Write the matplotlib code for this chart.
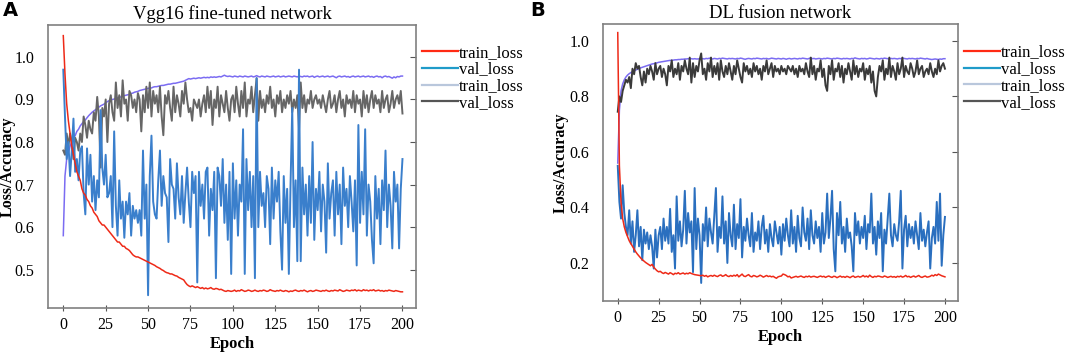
import matplotlib
matplotlib.use("Agg")
import matplotlib.pyplot as plt
from matplotlib.lines import Line2D

plt.rcParams['font.family'] = ['Liberation Serif', 'DejaVu Serif']

epochs = list(range(201))

# Panel A: Vgg16 fine-tuned network
a_train_loss = [
    1.05, 0.96, 0.89, 0.85, 0.82, 0.79, 0.77, 0.75, 0.73, 0.72,
    0.71, 0.69, 0.68, 0.675, 0.665, 0.66, 0.65, 0.645, 0.635, 0.63,
    0.625, 0.615, 0.61, 0.605, 0.605, 0.60, 0.595, 0.59, 0.585, 0.58,
    0.575, 0.57, 0.565, 0.565, 0.56, 0.555, 0.555, 0.55, 0.548, 0.545,
    0.54, 0.535, 0.532, 0.53, 0.53, 0.528, 0.526, 0.524, 0.522, 0.52,
    0.518, 0.516, 0.514, 0.512, 0.51, 0.507, 0.505, 0.503, 0.50, 0.498,
    0.495, 0.493, 0.492, 0.49, 0.49, 0.488, 0.486, 0.485, 0.482, 0.48,
    0.478, 0.476, 0.47, 0.465, 0.462, 0.46, 0.462, 0.46, 0.458, 0.46,
    0.458, 0.456, 0.458, 0.455, 0.457, 0.455, 0.456, 0.458, 0.455, 0.454,
    0.456, 0.455, 0.453, 0.454, 0.452, 0.45, 0.449, 0.451, 0.45, 0.449,
    0.45, 0.452, 0.449, 0.451, 0.45, 0.453, 0.451, 0.449, 0.45, 0.452,
    0.451, 0.449, 0.45, 0.452, 0.45, 0.449, 0.451, 0.45, 0.452, 0.451,
    0.449, 0.45, 0.453, 0.451, 0.45, 0.449, 0.451, 0.45, 0.452, 0.45,
    0.449, 0.451, 0.45, 0.448, 0.45, 0.449, 0.451, 0.452, 0.45, 0.449,
    0.451, 0.45, 0.452, 0.45, 0.448, 0.45, 0.451, 0.449, 0.45, 0.452,
    0.451, 0.45, 0.449, 0.451, 0.45, 0.452, 0.45, 0.449, 0.451, 0.45,
    0.452, 0.451, 0.45, 0.453, 0.451, 0.449, 0.45, 0.452, 0.451, 0.45,
    0.452, 0.451, 0.453, 0.45, 0.452, 0.451, 0.45, 0.453, 0.451, 0.452,
    0.45, 0.452, 0.451, 0.453, 0.45, 0.451, 0.452, 0.45, 0.451, 0.449,
    0.451, 0.45, 0.452, 0.451, 0.45, 0.449, 0.451, 0.45, 0.449, 0.448, 0.448,
]
a_val_loss = [
    0.97, 0.86, 0.76, 0.80, 0.72, 0.78, 0.855, 0.73, 0.76, 0.71,
    0.78, 0.79, 0.68, 0.63, 0.785, 0.70, 0.77, 0.66, 0.72, 0.64,
    0.71, 0.67, 0.875, 0.74, 0.70, 0.77, 0.67, 0.68, 0.72, 0.60,
    0.825, 0.65, 0.58, 0.71, 0.62, 0.66, 0.575, 0.66, 0.63, 0.68,
    0.58, 0.65, 0.62, 0.64, 0.61, 0.64, 0.58, 0.78, 0.62, 0.70,
    0.44, 0.72, 0.815, 0.66, 0.63, 0.62, 0.71, 0.78, 0.65, 0.72,
    0.68, 0.67, 0.565, 0.76, 0.70, 0.69, 0.62, 0.75, 0.67, 0.63,
    0.72, 0.61, 0.68, 0.74, 0.66, 0.60, 0.73, 0.68, 0.72, 0.47,
    0.73, 0.65, 0.70, 0.62, 0.73, 0.74, 0.58, 0.69, 0.64, 0.73,
    0.48, 0.74, 0.72, 0.65, 0.76, 0.61, 0.70, 0.57, 0.73, 0.49,
    0.75, 0.62, 0.71, 0.58, 0.70, 0.66, 0.83, 0.49, 0.76, 0.64,
    0.73, 0.60, 0.72, 0.48, 0.95, 0.60, 0.73, 0.65, 0.68, 0.60,
    0.72, 0.69, 0.56, 0.74, 0.62, 0.71, 0.66, 0.73, 0.59, 0.50,
    0.72, 0.61, 0.69, 0.49, 0.70, 0.88, 0.60, 0.71, 0.52, 0.97,
    0.52, 0.74, 0.63, 0.70, 0.58, 0.72, 0.61, 0.80, 0.57, 0.69,
    0.64, 0.73, 0.59, 0.70, 0.66, 0.54, 0.75, 0.62, 0.68, 0.71,
    0.58, 0.73, 0.63, 0.70, 0.56, 0.74, 0.65, 0.69, 0.60, 0.72,
    0.66, 0.59, 0.71, 0.51, 0.84, 0.61, 0.73, 0.63, 0.83, 0.58,
    0.70, 0.66, 0.57, 0.515, 0.72, 0.62, 0.69, 0.56, 0.71, 0.64,
    0.78, 0.60, 0.70, 0.65, 0.55, 0.73, 0.66, 0.70, 0.55, 0.69, 0.76,
]
a_train_acc = [
    0.58, 0.72, 0.76, 0.775, 0.79, 0.80, 0.81, 0.815, 0.825, 0.83,
    0.838, 0.843, 0.848, 0.852, 0.857, 0.862, 0.866, 0.87, 0.873, 0.876,
    0.879, 0.882, 0.885, 0.887, 0.889, 0.892, 0.895, 0.897, 0.899, 0.90,
    0.901, 0.903, 0.904, 0.905, 0.906, 0.908, 0.909, 0.91, 0.911, 0.912,
    0.914, 0.915, 0.917, 0.918, 0.919, 0.921, 0.922, 0.923, 0.924, 0.925,
    0.926, 0.927, 0.927, 0.929, 0.93, 0.93, 0.931, 0.932, 0.933, 0.933,
    0.934, 0.935, 0.936, 0.936, 0.937, 0.938, 0.938, 0.939, 0.94, 0.941,
    0.942, 0.943, 0.945, 0.947, 0.949, 0.948, 0.949, 0.95, 0.949, 0.95,
    0.951, 0.95, 0.951, 0.952, 0.951, 0.952, 0.951, 0.953, 0.952, 0.953,
    0.952, 0.953, 0.954, 0.953, 0.955, 0.957, 0.955, 0.954, 0.955, 0.954,
    0.953, 0.955, 0.954, 0.953, 0.955, 0.954, 0.953, 0.955, 0.954, 0.953,
    0.954, 0.955, 0.953, 0.954, 0.956, 0.954, 0.953, 0.955, 0.954, 0.953,
    0.955, 0.954, 0.953, 0.954, 0.955, 0.953, 0.954, 0.955, 0.953, 0.954,
    0.955, 0.953, 0.954, 0.955, 0.954, 0.953, 0.955, 0.954, 0.953, 0.955,
    0.954, 0.953, 0.955, 0.954, 0.955, 0.953, 0.954, 0.955, 0.952, 0.954,
    0.955, 0.953, 0.954, 0.955, 0.953, 0.954, 0.955, 0.953, 0.954, 0.955,
    0.953, 0.951, 0.954, 0.955, 0.953, 0.954, 0.955, 0.953, 0.954, 0.952,
    0.954, 0.955, 0.953, 0.954, 0.955, 0.953, 0.954, 0.955, 0.953, 0.954,
    0.955, 0.953, 0.954, 0.952, 0.954, 0.955, 0.953, 0.954, 0.951, 0.954,
    0.955, 0.953, 0.954, 0.952, 0.95, 0.953, 0.951, 0.954, 0.953, 0.955, 0.955,
]
a_val_acc = [
    0.78, 0.77, 0.82, 0.79, 0.82, 0.80, 0.76, 0.81, 0.80, 0.78,
    0.82, 0.80, 0.86, 0.84, 0.81, 0.85, 0.83, 0.82, 0.87, 0.85,
    0.906, 0.86, 0.74, 0.88, 0.86, 0.90, 0.80, 0.89, 0.91, 0.87,
    0.85, 0.94, 0.88, 0.91, 0.86, 0.945, 0.89, 0.90, 0.85, 0.92,
    0.91, 0.88, 0.90, 0.87, 0.915, 0.90, 0.825, 0.91, 0.87, 0.93,
    0.88, 0.94, 0.86, 0.92, 0.89, 0.91, 0.87, 0.93, 0.86, 0.816,
    0.91, 0.89, 0.92, 0.88, 0.85, 0.93, 0.87, 0.91, 0.89, 0.86,
    0.92, 0.89, 0.94, 0.90, 0.87, 0.88, 0.85, 0.90, 0.89, 0.88,
    0.90, 0.86, 0.89, 0.91, 0.87, 0.93, 0.88, 0.92, 0.84, 0.90,
    0.88, 0.93, 0.86, 0.91, 0.89, 0.87, 0.92, 0.88, 0.85, 0.90,
    0.91, 0.87, 0.93, 0.89, 0.86, 0.92, 0.88, 0.94, 0.86, 0.90,
    0.89, 0.93, 0.87, 0.91, 0.95, 0.85, 0.92, 0.88, 0.90, 0.87,
    0.91, 0.89, 0.93, 0.88, 0.90, 0.86, 0.91, 0.89, 0.92, 0.87,
    0.90, 0.88, 0.91, 0.89, 0.92, 0.87, 0.90, 0.88, 0.91, 0.83,
    0.94, 0.88, 0.91, 0.87, 0.90, 0.89, 0.92, 0.88, 0.90, 0.91,
    0.89, 0.90, 0.88, 0.91, 0.89, 0.87, 0.90, 0.92, 0.88, 0.89,
    0.91, 0.87, 0.90, 0.92, 0.88, 0.90, 0.86, 0.91, 0.89, 0.90,
    0.88, 0.92, 0.87, 0.91, 0.89, 0.90, 0.86, 0.92, 0.88, 0.91,
    0.87, 0.90, 0.92, 0.88, 0.91, 0.89, 0.90, 0.87, 0.92, 0.88,
    0.90, 0.91, 0.87, 0.89, 0.92, 0.88, 0.90, 0.91, 0.89, 0.92, 0.867,
]

# Panel B: DL fusion network
b_train_loss = [
    1.03, 0.55, 0.42, 0.36, 0.33, 0.31, 0.295, 0.28, 0.27, 0.26,
    0.25, 0.24, 0.232, 0.225, 0.218, 0.212, 0.207, 0.202, 0.198, 0.194,
    0.19, 0.195, 0.185, 0.178, 0.172, 0.168, 0.17, 0.165, 0.162, 0.166,
    0.163, 0.16, 0.165, 0.162, 0.158, 0.163, 0.161, 0.165, 0.16, 0.162,
    0.164, 0.16, 0.163, 0.161, 0.165, 0.162, 0.16, 0.158, 0.157, 0.156,
    0.155, 0.154, 0.156, 0.152, 0.155, 0.15, 0.153, 0.155, 0.152, 0.156,
    0.153, 0.151, 0.155, 0.157, 0.152, 0.154, 0.158, 0.153, 0.151, 0.155,
    0.152, 0.156, 0.153, 0.158, 0.15, 0.155, 0.16, 0.153, 0.151, 0.155,
    0.158, 0.152, 0.15, 0.155, 0.153, 0.15, 0.152, 0.156, 0.153, 0.149,
    0.152, 0.155, 0.151, 0.153, 0.15, 0.152, 0.148, 0.145, 0.15, 0.152,
    0.153, 0.16, 0.158, 0.155, 0.15, 0.152, 0.146, 0.148, 0.15, 0.152,
    0.149, 0.151, 0.153, 0.15, 0.148, 0.152, 0.15, 0.153, 0.149, 0.151,
    0.152, 0.15, 0.148, 0.151, 0.153, 0.15, 0.152, 0.148, 0.151, 0.153,
    0.15, 0.148, 0.152, 0.151, 0.147, 0.15, 0.153, 0.149, 0.151, 0.148,
    0.152, 0.15, 0.147, 0.151, 0.153, 0.148, 0.15, 0.152, 0.149, 0.151,
    0.155, 0.15, 0.153, 0.149, 0.156, 0.151, 0.148, 0.152, 0.15, 0.153,
    0.152, 0.15, 0.149, 0.153, 0.151, 0.148, 0.15, 0.152, 0.149, 0.151,
    0.148, 0.152, 0.15, 0.153, 0.149, 0.151, 0.155, 0.15, 0.152, 0.148,
    0.151, 0.153, 0.149, 0.152, 0.155, 0.15, 0.148, 0.151, 0.153, 0.149,
    0.15, 0.152, 0.156, 0.153, 0.158, 0.155, 0.16, 0.157, 0.154, 0.152, 0.15,
]
b_val_loss = [
    0.55, 0.42, 0.36, 0.48, 0.38, 0.33, 0.30, 0.39, 0.27, 0.35,
    0.24, 0.30, 0.39, 0.26, 0.33, 0.21, 0.32, 0.27, 0.31, 0.25,
    0.30, 0.26, 0.18, 0.32, 0.22, 0.30, 0.33, 0.25, 0.36, 0.28,
    0.33, 0.27, 0.395, 0.24, 0.30, 0.18, 0.44, 0.28, 0.35, 0.26,
    0.32, 0.46, 0.27, 0.38, 0.31, 0.35, 0.167, 0.47, 0.25, 0.36,
    0.30, 0.128, 0.34, 0.28, 0.40, 0.26, 0.36, 0.31, 0.27, 0.37,
    0.47, 0.24, 0.33, 0.29, 0.44, 0.27, 0.35, 0.20, 0.38, 0.30,
    0.26, 0.41, 0.25, 0.34, 0.29, 0.43, 0.22, 0.33, 0.28, 0.36,
    0.30, 0.26, 0.38, 0.24, 0.31, 0.28, 0.35, 0.25, 0.33, 0.37,
    0.27, 0.32, 0.24, 0.34, 0.29, 0.26, 0.35, 0.31, 0.27, 0.33,
    0.23, 0.34, 0.28, 0.36, 0.30, 0.26, 0.39, 0.27, 0.33, 0.24,
    0.37, 0.29, 0.26, 0.40, 0.31, 0.28, 0.36, 0.25, 0.39, 0.30,
    0.27, 0.35, 0.29, 0.33, 0.24, 0.38, 0.27, 0.31, 0.45, 0.29,
    0.36, 0.46, 0.25, 0.17, 0.38, 0.30, 0.42, 0.27, 0.33, 0.24,
    0.36, 0.29, 0.31, 0.26, 0.17, 0.38, 0.30, 0.35, 0.27, 0.33,
    0.29, 0.37, 0.25, 0.34, 0.31, 0.45, 0.27, 0.33, 0.23, 0.35,
    0.29, 0.38, 0.17, 0.32, 0.27, 0.36, 0.45, 0.30, 0.26, 0.34,
    0.30, 0.28, 0.35, 0.46, 0.18, 0.32, 0.37, 0.26, 0.34, 0.29,
    0.33, 0.27, 0.35, 0.30, 0.25, 0.38, 0.28, 0.32, 0.26, 0.31,
    0.35, 0.18, 0.29, 0.33, 0.27, 0.42, 0.28, 0.45, 0.19, 0.30, 0.366,
]
b_train_acc = [
    0.56, 0.75, 0.82, 0.845, 0.86, 0.87, 0.877, 0.882, 0.886, 0.889,
    0.892, 0.895, 0.898, 0.90, 0.903, 0.905, 0.907, 0.909, 0.911, 0.913,
    0.915, 0.917, 0.918, 0.92, 0.921, 0.923, 0.924, 0.925, 0.926, 0.927,
    0.928, 0.929, 0.93, 0.93, 0.931, 0.932, 0.932, 0.933, 0.933, 0.934,
    0.934, 0.935, 0.935, 0.936, 0.935, 0.936, 0.935, 0.936, 0.935, 0.935,
    0.936, 0.937, 0.936, 0.935, 0.937, 0.936, 0.938, 0.936, 0.935, 0.937,
    0.936, 0.935, 0.937, 0.936, 0.938, 0.937, 0.936, 0.935, 0.937, 0.936,
    0.937, 0.936, 0.935, 0.937, 0.936, 0.938, 0.937, 0.935, 0.934, 0.936,
    0.937, 0.936, 0.935, 0.937, 0.936, 0.938, 0.937, 0.936, 0.935, 0.937,
    0.936, 0.937, 0.935, 0.936, 0.938, 0.937, 0.936, 0.935, 0.937, 0.936,
    0.935, 0.937, 0.936, 0.934, 0.936, 0.937, 0.935, 0.936, 0.937, 0.936,
    0.935, 0.937, 0.936, 0.938, 0.937, 0.936, 0.935, 0.937, 0.939, 0.936,
    0.937, 0.935, 0.936, 0.937, 0.936, 0.935, 0.937, 0.936, 0.938, 0.937,
    0.936, 0.935, 0.937, 0.936, 0.938, 0.937, 0.936, 0.935, 0.937, 0.936,
    0.937, 0.936, 0.935, 0.937, 0.936, 0.939, 0.937, 0.936, 0.935, 0.937,
    0.936, 0.937, 0.935, 0.936, 0.938, 0.937, 0.936, 0.935, 0.937, 0.936,
    0.935, 0.937, 0.936, 0.938, 0.937, 0.936, 0.935, 0.937, 0.936, 0.937,
    0.936, 0.935, 0.937, 0.936, 0.938, 0.937, 0.936, 0.935, 0.937, 0.936,
    0.937, 0.936, 0.935, 0.937, 0.936, 0.938, 0.937, 0.936, 0.935, 0.937,
    0.935, 0.934, 0.933, 0.934, 0.935, 0.934, 0.933, 0.935, 0.934, 0.936, 0.936,
]
b_val_acc = [
    0.745, 0.80, 0.78, 0.82, 0.84, 0.86, 0.85, 0.87, 0.83, 0.90,
    0.88, 0.92, 0.90, 0.91, 0.87, 0.84, 0.89, 0.85, 0.90, 0.88,
    0.91, 0.89, 0.86, 0.92, 0.88, 0.90, 0.91, 0.87, 0.90, 0.88,
    0.84, 0.91, 0.89, 0.93, 0.87, 0.90, 0.88, 0.92, 0.86, 0.91,
    0.89, 0.93, 0.90, 0.88, 0.94, 0.85, 0.92, 0.87, 0.91, 0.89,
    0.93, 0.955, 0.88, 0.90, 0.86, 0.92, 0.89, 0.94, 0.87, 0.91,
    0.88, 0.92, 0.86, 0.93, 0.89, 0.87, 0.91, 0.88, 0.92, 0.89,
    0.86, 0.91, 0.88, 0.93, 0.90, 0.87, 0.85, 0.92, 0.89, 0.91,
    0.88, 0.90, 0.87, 0.92, 0.89, 0.91, 0.88, 0.90, 0.86, 0.91,
    0.89, 0.93, 0.88, 0.90, 0.92, 0.87, 0.91, 0.89, 0.90, 0.88,
    0.91, 0.89, 0.90, 0.88, 0.91, 0.90, 0.89, 0.91, 0.88, 0.90,
    0.87, 0.91, 0.89, 0.90, 0.88, 0.92, 0.89, 0.87, 0.94, 0.88,
    0.91, 0.86, 0.90, 0.89, 0.93, 0.87, 0.90, 0.84, 0.82, 0.91,
    0.88, 0.93, 0.86, 0.90, 0.89, 0.92, 0.87, 0.91, 0.85, 0.90,
    0.88, 0.92, 0.89, 0.86, 0.93, 0.88, 0.91, 0.87, 0.90, 0.89,
    0.92, 0.86, 0.90, 0.88, 0.91, 0.85, 0.89, 0.82, 0.80, 0.87,
    0.91, 0.89, 0.93, 0.86, 0.90, 0.88, 0.94, 0.87, 0.91, 0.89,
    0.86, 0.92, 0.88, 0.90, 0.94, 0.87, 0.91, 0.89, 0.88, 0.92,
    0.90, 0.87, 0.89, 0.93, 0.88, 0.90, 0.91, 0.87, 0.89, 0.90,
    0.88, 0.92, 0.89, 0.87, 0.90, 0.88, 0.93, 0.89, 0.91, 0.92, 0.90,
]

legend_labels = ['train_loss', 'val_loss', 'train_loss', 'val_loss']
legend_colors = ['#ff2a14', '#1f9bc9', '#b9c7dc', '#555555']


def draw_panel(ax, title, train_loss, val_loss, train_acc, val_acc,
               ylim, yticks, acc_gray, blue, ylabel_x, legend_y):
    ax.plot(epochs, train_acc, color='#7b6cf2', lw=1.1)
    ax.plot(epochs, val_acc, color=acc_gray, lw=1.4)
    ax.plot(epochs, val_loss, color=blue, lw=1.4)
    ax.plot(epochs, train_loss, color='#ee2a18', lw=1.1)
    ax.set_xlim(-9, 208)
    ax.set_ylim(*ylim)
    ax.set_xticks([0, 25, 50, 75, 100, 125, 150, 175, 200])
    ax.set_yticks(yticks)
    ax.set_yticklabels(['%.1f' % v for v in yticks])
    ax.tick_params(axis='y', left=False, right=True, labelleft=True,
                   direction='in', length=4, pad=10, labelsize=11.5,
                   color='#555555')
    ax.tick_params(axis='x', direction='inout', length=5, labelsize=11.5,
                   color='#555555', pad=4)
    for sp in ax.spines.values():
        sp.set_color('#808080')
        sp.set_linewidth(1.2)
    ax.set_title(title, fontsize=13.5, pad=4)
    ax.set_xlabel('Epoch', fontsize=12, fontweight='bold', labelpad=2)
    ax.set_ylabel('Loss/Accuracy', fontsize=11.5, fontweight='bold')
    ax.yaxis.set_label_coords(ylabel_x, 0.5)
    handles = [Line2D([], [], color=c, lw=1.6) for c in legend_colors]
    ax.legend(handles, legend_labels, loc='upper left',
              bbox_to_anchor=(0.997, legend_y), frameon=False, fontsize=12,
              handlelength=2.2, handletextpad=0.05, labelspacing=0.05,
              borderaxespad=0.0)


fig = plt.figure(figsize=(10.84, 3.53), dpi=100)
ax_a = fig.add_axes([0.0443, 0.1275, 0.3395, 0.8017])
ax_b = fig.add_axes([0.5563, 0.1473, 0.3275, 0.7847])

draw_panel(ax_a, 'Vgg16 fine-tuned network', a_train_loss, a_val_loss,
           a_train_acc, a_val_acc, (0.41, 1.075), [0.5, 0.6, 0.7, 0.8, 0.9, 1.0],
           '#666666', '#3a7fcc', -0.088, 0.954)
draw_panel(ax_b, 'DL fusion network', b_train_loss, b_val_loss,
           b_train_acc, b_val_acc, (0.063, 1.061), [0.2, 0.4, 0.6, 0.8, 1.0],
           '#3a3a3a', '#2a6fbf', -0.096, 0.95)

fig.text(0.003, 0.955, 'A', fontsize=14, fontweight='bold', family='DejaVu Sans')
fig.text(0.489, 0.955, 'B', fontsize=14, fontweight='bold', family='DejaVu Sans')

fig.savefig('out.png', dpi=100)
